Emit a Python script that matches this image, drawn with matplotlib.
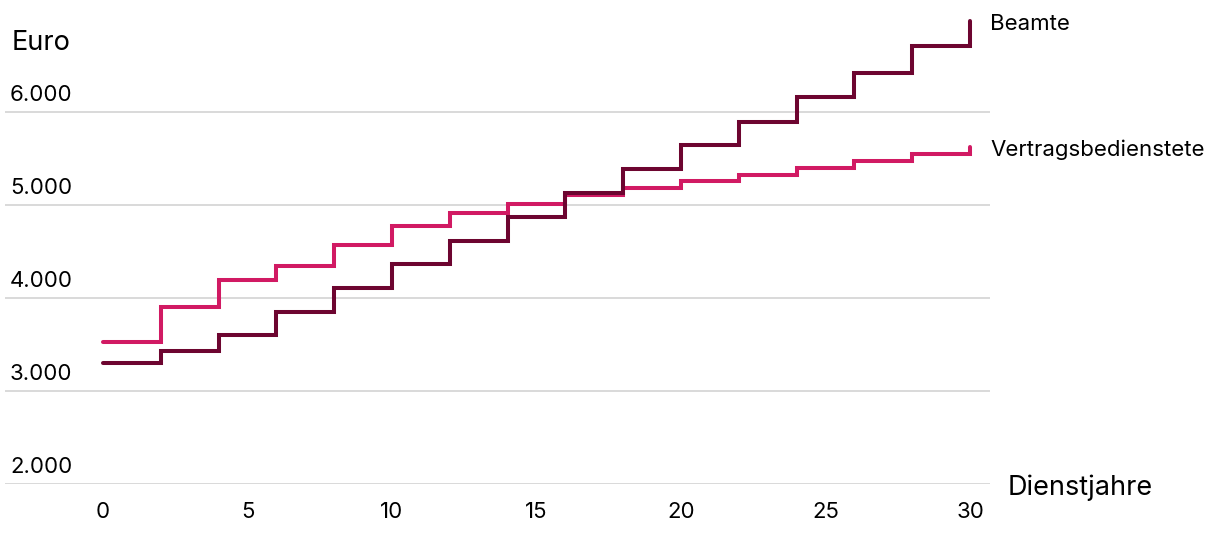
import matplotlib.pyplot as plt
import matplotlib.transforms as mtransforms
import numpy as np

plt.rcParams['font.family'] = ['Inter', 'DejaVu Sans']

# Dienstjahre (steps every 2 years)
years = np.arange(0, 31, 2)
# monthly salary in Euro
beamte = [3300, 3430, 3600, 3850, 4110, 4365, 4615, 4870,
          5130, 5385, 5645, 5900, 6160, 6420, 6710, 6980]
vertrags = [3525, 3900, 4195, 4345, 4570, 4775, 4915, 5010,
            5110, 5185, 5260, 5325, 5400, 5475, 5550, 5625]
y_ticks = [2000, 3000, 4000, 5000, 6000]
y_labels = ['2.000', '3.000', '4.000', '5.000', '6.000']
x_ticks = [0, 5, 10, 15, 20, 25, 30]

c_beamte = '#6d0530'
c_vertrags = '#d11a63'

fig = plt.figure(figsize=(12.2, 5.36), dpi=100)
ax = fig.add_axes([5 / 1220, 1 - 484 / 536, 985 / 1220, (484 - 10) / 536])

for yv in y_ticks:
    ax.axhline(yv, color='#d9d9d9', lw=1.4, zorder=1)

ax.plot(years, vertrags, drawstyle='steps-post', color=c_vertrags, lw=2.9,
        solid_capstyle='round', solid_joinstyle='miter', zorder=3)
ax.plot(years, beamte, drawstyle='steps-post', color=c_beamte, lw=2.9,
        solid_capstyle='round', solid_joinstyle='miter', zorder=4)

ax.set_xlim(-3.39, 30.69)
ax.set_ylim(2000, 7100)

for s in ax.spines.values():
    s.set_visible(False)
ax.set_yticks([])
ax.set_xticks(x_ticks)
ax.set_xticklabels([str(x) for x in x_ticks], fontsize=16)
ax.tick_params(axis='x', length=0, pad=13)

trans = mtransforms.blended_transform_factory(ax.transAxes, ax.transData)
for yv, lab in zip(y_ticks, y_labels):
    ax.text(5 / 985, yv + 80, lab, transform=trans, fontsize=16,
            ha='left', va='bottom')

fig.text(12 / 1220, 1 - 43 / 536, 'Euro', fontsize=19.5, ha='left', va='center')
fig.text(1008 / 1220, 1 - 488 / 536, 'Dienstjahre', fontsize=19.5,
         ha='left', va='center')

fig.text(990 / 1220, 1 - 24 / 536, 'Beamte', fontsize=16, ha='left', va='center')
fig.text(990 / 1220, 1 - 150 / 536, 'Vertragsbedienstete', fontsize=16,
         ha='left', va='center')

fig.savefig('out.png', dpi=100)
